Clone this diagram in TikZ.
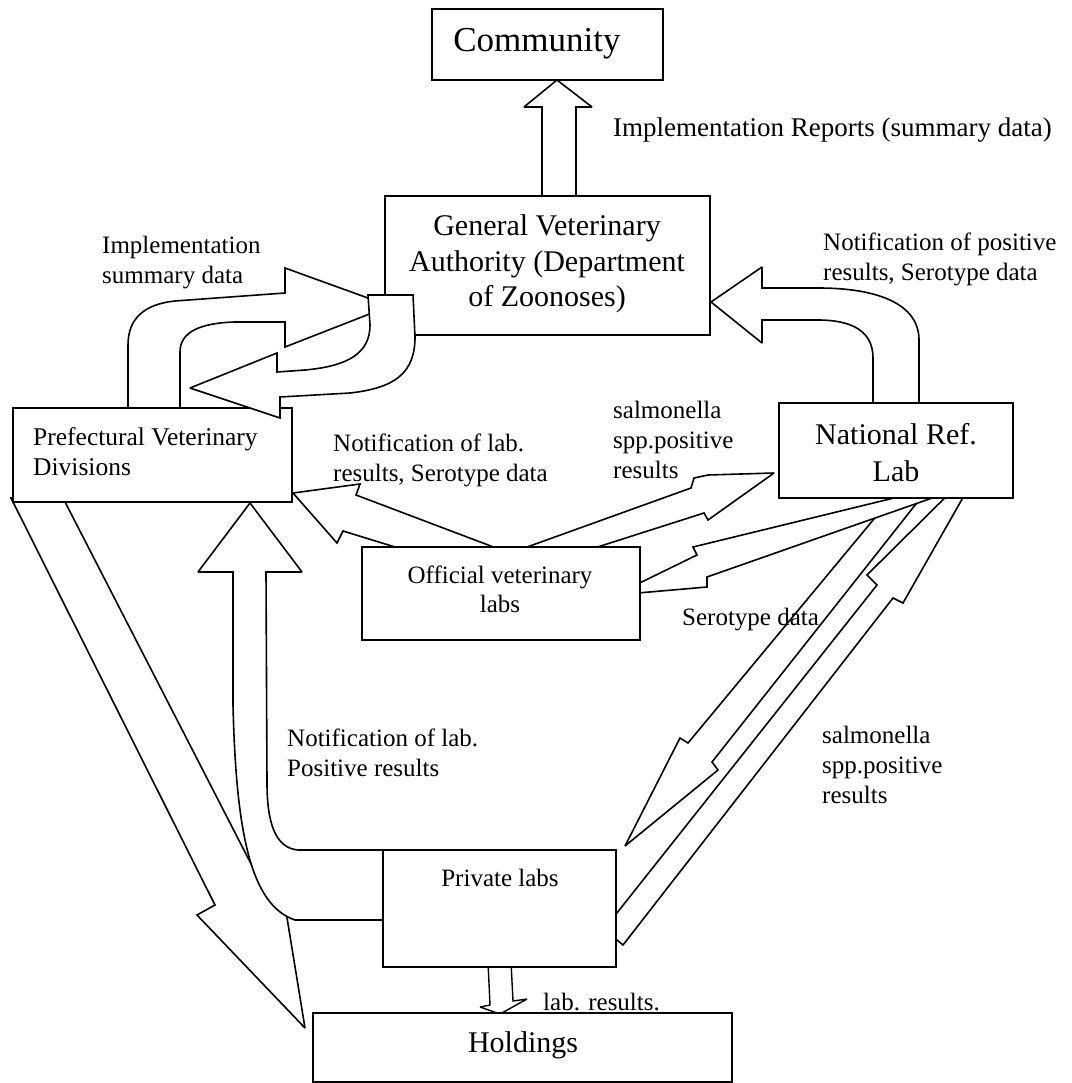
\documentclass[tikz,border=0pt]{standalone}
\usepackage{fontspec}
\setmainfont{Liberation Serif}
\usetikzlibrary{backgrounds}
\begin{document}
\begin{tikzpicture}[x=1pt,y=-1pt,
  box/.style={draw, line width=1.8pt, fill=white, inner sep=0pt},
  blk/.style={draw, line width=1.6pt, fill=white, line join=miter, miter limit=2},
  lbl/.style={font=\fontsize{25}{30}\selectfont, align=left, inner sep=0pt, anchor=west},
  btxt/.style={inner sep=0pt, align=center}]
\useasboundingbox (0,0) rectangle (1071,1083);

% ---------- boxes ----------
\node[box, minimum width=231pt, minimum height=71pt]  (community) at (547.5,44.5) {};
\node[box, minimum width=325pt, minimum height=139pt] (gva)       at (547.5,265.5) {};
\node[box, minimum width=234pt, minimum height=95pt]  (nrl)       at (896,450.5) {};
\node[box, minimum width=279pt, minimum height=94pt]  (pref)      at (152.5,455) {};
\node[box, minimum width=278pt, minimum height=93pt]  (official)  at (501,593.5) {};
\node[box, minimum width=233pt, minimum height=117pt] (private)   at (499.5,908.5) {};
\node[box, minimum width=419pt, minimum height=69pt]  (holdings)  at (522.5,1047.5) {};

% ---------- block arrows below the boxes ----------
\begin{pgfonlayer}{background}
% GVA -> Community
\draw[blk] (542,200) -- (542,107) -- (524,107) -- (557,80) -- (592,107) -- (576,107) -- (576,200) -- cycle;
% NRL -> GVA
\draw[blk] (919,410) -- (919,340) .. controls (919,305) and (880,288) .. (818,288) -- (762,288) -- (762,267)
  -- (711,302) -- (762,343) -- (762,320) -- (818,320) .. controls (850,320) and (873,330) .. (873,358) -- (873,410) -- cycle;
% Prefectural -> GVA
\draw[blk] (128,412) -- (128,345) .. controls (128,318) and (145,304) .. (175,301) -- (285,293) -- (285,268)
  -- (390,306) -- (285,347) -- (285,322) -- (235,322) .. controls (200,323) and (180,332) .. (180,352) -- (180,412) -- cycle;
% Official -> Prefectural
\draw[blk] (293,493) -- (360,484) -- (356,495) -- (504,551) -- (408,551) -- (343,531) -- (337,543) -- cycle;
% Official -> NRL
\draw[blk] (516,551) -- (691,488) -- (694,478) -- (708,475) -- (774,473) -- (708,520) -- (704,513) -- (585,551) -- cycle;
% NRL -> Private
\draw[blk] (898,490) -- (688,743) -- (680,738) -- (625,846) -- (718,770) -- (712,762) -- (927,490) -- cycle;
% NRL -> Official
\draw[blk] (898,497) -- (693,547) -- (697,555) -- (615,595) -- (707,587) -- (707,577) -- (935,497) -- cycle;
% Private -> NRL
\draw[blk] (605,928) -- (877,585) -- (867,575) -- (986,457) -- (903,603) -- (893,598) -- (623,945) -- (617,940) -- cycle;
% Prefectural -> Holdings
\draw[blk] (11,498) -- (215,905) -- (197,915) -- (305,1028) -- (282,887) -- (266,893) -- (63,498) -- cycle;
% Private -> Prefectural
\draw[blk] (390,850) -- (298,850) .. controls (275,848) and (267,822) .. (267,783) -- (266,572) -- (302,572)
  -- (250,503) -- (198,572) -- (233,572) -- (233,705) .. controls (236,830) and (250,905) .. (295,920) -- (390,920) -- cycle;
% Private -> Holdings
\draw[blk, line width=1.4pt] (488,962) -- (490,1005) -- (480,1007) -- (500,1014) -- (527,999) -- (513,1001) -- (511,962) -- cycle;
\end{pgfonlayer}

% GVA -> Prefectural (drawn over the GVA box)
\draw[blk] (368,295) -- (413,295) -- (415,337) .. controls (415,373) and (395,388) .. (350,393) -- (280,397) -- (280,418)
  -- (190,388) -- (277,353) -- (277,372) -- (305,370) .. controls (350,366) and (370,352) .. (370,325) -- cycle;

% ---------- box texts ----------
\node[btxt, font=\fontsize{35}{40}\selectfont] (t-community) at (537,44) {Community};
\node[btxt, font=\fontsize{30}{35.5}\selectfont] (t-gva) at (547,264) {General Veterinary\\Authority (Department\\of Zoonoses)};
\node[btxt, font=\fontsize{30}{37}\selectfont] (t-nrl) at (896,453) {National Ref.\\Lab};
\node[btxt, align=left, anchor=west, font=\fontsize{25.5}{30}\selectfont] (t-pref) at (33,452) {Prefectural Veterinary\\Divisions};
\node[btxt, font=\fontsize{25}{29}\selectfont] (t-official) at (500,589) {Official veterinary\\labs};
\node[btxt, font=\fontsize{25}{30}\selectfont] (t-private) at (500,878) {Private labs};
\node[btxt, font=\fontsize{30}{35}\selectfont] (t-holdings) at (523,1045) {Holdings};

% ---------- labels ----------
\node[lbl, font=\fontsize{27}{30}\selectfont] (l-impl) at (613,130) {Implementation Reports (summary data)};
\node[lbl] (l-implsum) at (102,263) {Implementation\\summary data};
\node[lbl] (l-notpos) at (823,259) {Notification of positive\\results, Serotype data};
\node[lbl] (l-notlab) at (333,460) {Notification of lab.\\results, Serotype data};
\node[lbl] (l-salm1)  at (613,440) {salmonella\\spp.positive\\results};
\node[lbl] (l-sero)   at (682,620) {Serotype data};
\node[lbl] (l-salm2)  at (822,765) {salmonella\\spp.positive\\results};
\node[lbl] (l-notlab2) at (287,753) {Notification of lab.\\Positive results};
\node[lbl] (l-labres) at (543,1002) {lab. results.};
\end{tikzpicture}
\end{document}
